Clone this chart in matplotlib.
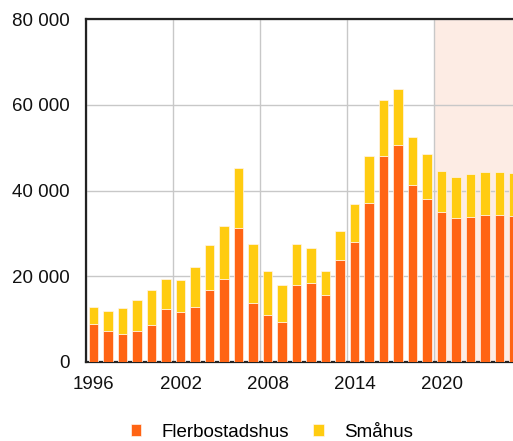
import matplotlib.pyplot as plt
from matplotlib.ticker import FuncFormatter, MultipleLocator

plt.rcParams['font.family'] = ['Liberation Sans', 'DejaVu Sans']

years = list(range(1996, 2026))
flerbostadshus = [8720, 7240, 6540, 7240, 8490, 12380, 11600, 12690, 16820, 19390,
                  31300, 13780, 10980, 9340, 17990, 18380, 15650, 23670, 28030, 36990,
                  48120, 50690, 41270, 38080, 34880, 33640, 33870, 34180, 34180, 34100]
totals = [12690, 11840, 12540, 14480, 16740, 19310, 19000, 22030, 27250, 31770,
          45160, 27490, 21180, 17910, 27490, 26630, 21180, 30530, 36830, 48120,
          61130, 63770, 52560, 48590, 44460, 43140, 43840, 44220, 44220, 44060]
smahus = [t - f for t, f in zip(totals, flerbostadshus)]
tick_years = [1996, 2002, 2008, 2014, 2020]
forecast_start = 2020

fig = plt.figure(figsize=(5.13, 4.41), dpi=100)
ax = fig.add_axes([0.1682, 0.1798, 0.8318, 0.7764])

orange = '#ff6414'
yellow = '#ffcc11'

ax.axvspan(forecast_start - 0.5, 2030, color='#fdece4', zorder=0, lw=0)
ax.bar(years, flerbostadshus, width=0.66, color=orange, edgecolor='#fff4ec',
       linewidth=0.5, label='Flerbostadshus', zorder=3)
ax.bar(years, smahus, bottom=flerbostadshus, width=0.66, color=yellow,
       edgecolor='#fff4ec', linewidth=0.5, label='Småhus', zorder=3)

ax.set_xlim(1995.5, 2024.93)
ax.set_ylim(0, 80000)
ax.yaxis.set_major_locator(MultipleLocator(20000))
ax.yaxis.set_major_formatter(FuncFormatter(lambda v, p: f'{int(v):,}'.replace(',', ' ')))
ax.set_xticks(tick_years)
ax.set_xticks([y - 0.5 for y in tick_years], minor=True)
ax.grid(False)
ax.grid(True, axis='y', color='#c8c8c8', lw=1, zorder=1)
ax.grid(True, axis='x', which='minor', color='#c8c8c8', lw=1, zorder=1)
ax.tick_params(axis='both', which='both', length=0, labelsize=13.5, colors='#111111')
ax.tick_params(axis='y', pad=12)
ax.tick_params(axis='x', pad=10)

for side in ['left', 'top', 'bottom']:
    ax.spines[side].set_linewidth(1.6)
    ax.spines[side].set_color('#222222')
ax.spines['right'].set_visible(False)

fig.legend(loc='center', bbox_to_anchor=(0.530, 0.02), ncol=2, frameon=False,
           fontsize=13.5, handlelength=0.55, handleheight=0.55, columnspacing=1.3,
           handletextpad=1.1)

fig.savefig('out.png', dpi=100)
